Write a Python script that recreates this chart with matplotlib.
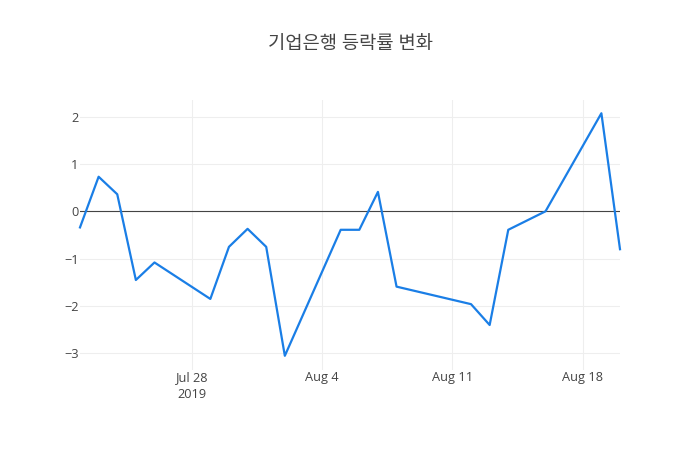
import pandas as pd
import matplotlib
matplotlib.use("Agg")
import matplotlib.pyplot as plt

plt.rcParams['font.family'] = ['Open Sans', 'Noto Sans CJK KR', 'DejaVu Sans']

# 등락률 (%) by trading day
dates = pd.to_datetime([
    "2019-07-22", "2019-07-23", "2019-07-24", "2019-07-25", "2019-07-26",
    "2019-07-29", "2019-07-30", "2019-07-31", "2019-08-01", "2019-08-02",
    "2019-08-05", "2019-08-06", "2019-08-07", "2019-08-08",
    "2019-08-12", "2019-08-13", "2019-08-14", "2019-08-16",
    "2019-08-19", "2019-08-20",
])
rates = [-0.34, 0.73, 0.36, -1.45, -1.08,
         -1.85, -0.75, -0.37, -0.75, -3.05,
         -0.39, -0.39, 0.41, -1.59,
         -1.96, -2.40, -0.39, 0.00,
         2.07, -0.80]

xticks = pd.to_datetime(["2019-07-28", "2019-08-04", "2019-08-11", "2019-08-18"])
xticklabels = ["Jul 28\n2019", "Aug 4", "Aug 11", "Aug 18"]
yticks = [-3, -2, -1, 0, 1, 2]
title = "기업은행 등락률 변화"

fig = plt.figure(figsize=(7, 4.5), dpi=100)
ax = fig.add_axes([80 / 700, 80 / 450, 540 / 700, 270 / 450])

ax.plot(dates, rates, color='#1a7ee6', linewidth=1.6, zorder=3, clip_on=False)
ax.axhline(0, color='#444444', linewidth=0.8, zorder=2)

ax.set_xlim(dates[0], dates[-1])
ax.set_ylim(-3.35, 2.35)
ax.set_xticks(xticks)
ax.set_xticklabels(xticklabels, linespacing=1.35)
ax.set_yticks(yticks)
ax.set_yticklabels([str(v).replace('-', '\u2212') for v in yticks])

ax.grid(True, color='#eeeeee', linewidth=0.8, zorder=0)
ax.set_axisbelow(True)
for s in ax.spines.values():
    s.set_visible(False)
ax.tick_params(length=0, labelsize=9.2, colors='#444444')
ax.tick_params(axis='y', pad=1)
ax.tick_params(axis='x', pad=1)

fig.text(0.5, 1 - 44 / 450, title, ha='center', va='center', fontsize=13.5, color='#444444')

fig.savefig("out.png", dpi=100)
